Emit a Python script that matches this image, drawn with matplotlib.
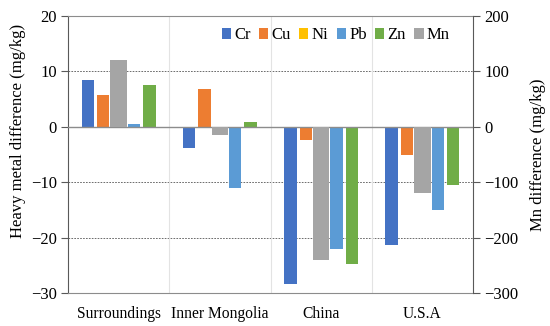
import numpy as np
import matplotlib.pyplot as plt

plt.rcParams['font.family'] = ['Liberation Serif', 'DejaVu Serif']

# Kategorien und Werte (mg/kg)
regionen = ['Surroundings', 'Inner Mongolia', 'China', 'U.S.A']
cr = [8.4, -3.9, -28.4, -21.4]
cu = [5.7, 6.9, -2.4, -5.1]
ni = [0.0, 0.0, 0.0, 0.0]
pb = [0.5, -11.1, -22.1, -15.1]
zn = [7.6, 0.9, -24.7, -10.5]
mn = [120, -15, -240, -119]  # Sekundaerachse

serien = [('Cr', cr, '#4472C4'), ('Cu', cu, '#ED7D31'), ('Ni', ni, '#FFC000'),
          ('Pb', pb, '#5B9BD5'), ('Zn', zn, '#70AD47')]

fig = plt.figure(figsize=(5.5, 3.26), dpi=100)
ax = fig.add_axes([68 / 550, 1 - 293 / 326, 405 / 550, 277 / 326])
ax2 = ax.twinx()

x = np.arange(len(regionen))
breite = 0.122
abstand = 0.152

handles = []
for i, (name, werte, farbe) in enumerate(serien):
    h = ax.bar(x + (i - 2) * abstand, werte, breite, color=farbe, label=name, zorder=2)
    handles.append(h)
h_mn = ax2.bar(x, mn, 0.165, color='#A5A5A5', label='Mn', zorder=2)
handles.append(h_mn)

ax.set_xlim(-0.5, 3.5)
ax.set_ylim(-30, 20)
ax2.set_ylim(-300, 200)
ax.set_yticks(np.arange(-30, 21, 10))
ax2.set_yticks(np.arange(-300, 201, 100))

# Gitterlinien
ax.set_axisbelow(True)
for yv in [-20, -10, 10]:
    ax.axhline(yv, color='#555555', lw=0.6, ls=(0, (2, 1.5)), zorder=0)
for xv in [0.5, 1.5, 2.5]:
    ax.axvline(xv, color='#E3E3E3', lw=0.8, zorder=0)
ax.axhline(0, color='#8C8C8C', lw=1.0, zorder=3)

for s in ['top', 'bottom']:
    ax.spines[s].set_color('#8C8C8C')
    ax2.spines[s].set_visible(False)
ax.spines['left'].set_color('#595959')
ax.spines['right'].set_visible(False)
ax2.spines['left'].set_visible(False)
ax2.spines['right'].set_color('#595959')

fs = 12
ax.set_xticks(x)
ax.set_xticklabels(regionen, fontsize=11.2)
ax.tick_params(axis='x', length=0, pad=9)
ax.tick_params(axis='y', labelsize=fs, direction='out', length=5, color='#595959', pad=3)
ax2.tick_params(axis='y', labelsize=fs, direction='out', length=5, color='#595959', pad=3)

ax.set_yticklabels([str(v).replace('-', '\u2212') for v in range(-30, 21, 10)])
ax2.set_yticklabels([str(v).replace('-', '\u2212') for v in range(-300, 201, 100)])

ax.set_ylabel('Heavy metal difference (mg/kg)', fontsize=fs)
ax.yaxis.set_label_coords(-0.104, 0.585)
ax2.set_ylabel('Mn difference (mg/kg)', fontsize=fs)
ax2.yaxis.set_label_coords(1.14, 0.5)

ax2.legend(handles=handles, labels=['Cr', 'Cu', 'Ni', 'Pb', 'Zn', 'Mn'],
           ncol=6, loc='center right', bbox_to_anchor=(0.943, 0.93), frameon=False,
           fontsize=fs, handlelength=0.55, handleheight=0.55, handletextpad=0.2,
           columnspacing=0.5, borderaxespad=0.0, borderpad=0.0)

fig.savefig('out.png', dpi=100)
